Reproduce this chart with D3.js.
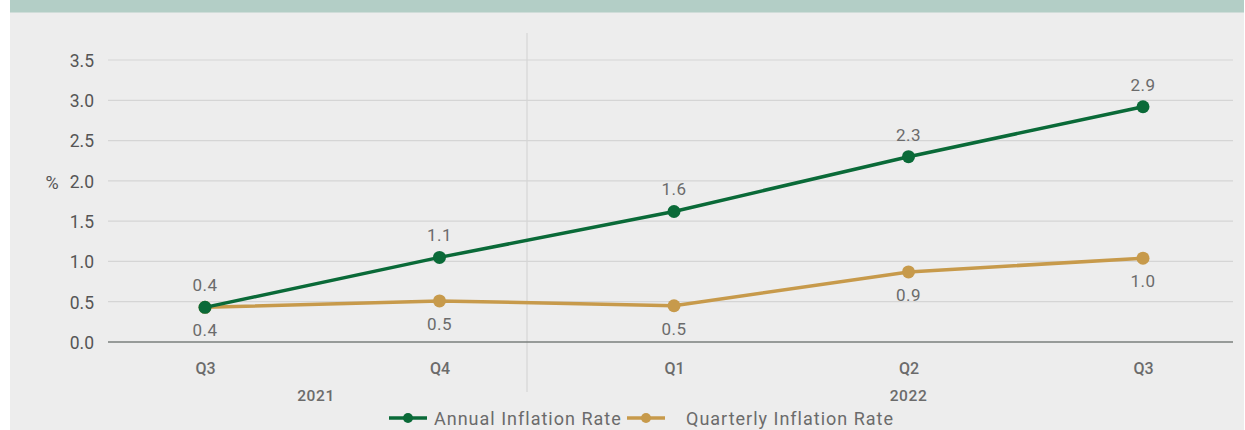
<!DOCTYPE html>
<html><head><meta charset="utf-8">
<script src="https://cdn.jsdelivr.net/npm/d3@7"></script>
<style>html,body{margin:0;padding:0;background:#fff;}svg{display:block;font-family:Roboto,"DejaVu Sans",sans-serif;}</style>
</head><body><svg id="c" width="1245" height="430"></svg>
<script>
const quarters = ["Q3","Q4","Q1","Q2","Q3"];
const years = [{label:"2021", from:0, to:1},{label:"2022", from:2, to:4}];
const annual = [0.43, 1.05, 1.62, 2.30, 2.92];
const annualLabels = ["0.4","1.1","1.6","2.3","2.9"];
const quarterly = [0.43, 0.51, 0.45, 0.87, 1.04];
const quarterlyLabels = ["0.4","0.5","0.5","0.9","1.0"];
const yTicks = [0,0.5,1.0,1.5,2.0,2.5,3.0,3.5];
const seriesNames = ["Annual Inflation Rate","Quarterly Inflation Rate"];
const colors = ["#0a6a38","#c79a4b"];

const svg = d3.select("#c");
svg.append("rect").attr("x",10).attr("y",0).attr("width",1234).attr("height",430).attr("fill","#ededed");
svg.append("rect").attr("x",10).attr("y",0).attr("width",1234).attr("height",12.5).attr("fill","#b3cec6");

const x = d3.scalePoint().domain(d3.range(quarters.length)).range([205,1143]);
const y = d3.scaleLinear().domain([0,3.5]).range([342,60]);
const gl = 108, gr = 1233, sepX = 527;
const txt = "#6b6b6b";

// grid
const g = svg.append("g");
g.selectAll("line.grid").data(yTicks.filter(t=>t>0)).join("line")
  .attr("x1",gl).attr("x2",gr).attr("y1",d=>y(d)).attr("y2",d=>y(d))
  .attr("stroke","#d5d5d5").attr("stroke-width",1.2);
// separator
g.append("line").attr("x1",sepX).attr("x2",sepX).attr("y1",33).attr("y2",392)
  .attr("stroke","#d5d5d5").attr("stroke-width",1.2);
// axis baseline
g.append("line").attr("x1",gl).attr("x2",gr).attr("y1",y(0)).attr("y2",y(0)).attr("stroke","#7a7f7d").attr("stroke-width",1.5);

// y labels
const yAxis = d3.axisLeft(y).tickValues(yTicks).tickFormat(d3.format(".1f")).tickSize(0).tickPadding(0);
const ya = svg.append("g").attr("transform","translate(94,0)").call(yAxis);
ya.select(".domain").remove();
ya.selectAll("text").attr("font-size",17.5).attr("fill","#555").attr("font-family","Roboto,sans-serif").attr("dy","0.36em");
svg.append("text").attr("x",52).attr("y",y(2.0)+8).attr("text-anchor","middle").attr("font-size",18).attr("fill","#555").text("%");

// x labels
const xAxis = d3.axisBottom(x).tickFormat(i=>quarters[i]).tickSize(0).tickPadding(0);
const xa = svg.append("g").attr("transform","translate(0,374)").call(xAxis);
xa.select(".domain").remove();
xa.selectAll("text").attr("font-size",16).attr("fill",txt).attr("font-weight",500).attr("font-family","Roboto,sans-serif").attr("dy",0);
svg.selectAll("text.year").data(years).join("text").attr("class","year")
  .attr("x",d=>d.label==="2021"?316:(x(d.from)+x(d.to))/2).attr("y",401).attr("text-anchor","middle")
  .attr("font-size",15.5).attr("fill",txt).attr("font-weight",500).attr("letter-spacing",0.6).text(d=>d.label);

// lines
const line = d3.line().x((d,i)=>x(i)).y(d=>y(d));
[[quarterly,colors[1]],[annual,colors[0]]].forEach(([data,col])=>{
  svg.append("path").datum(data).attr("d",line).attr("fill","none").attr("stroke",col).attr("stroke-width",3.5);
  svg.selectAll(null).data(data).join("circle").attr("cx",(d,i)=>x(i)).attr("cy",d=>y(d)).attr("r",6.5).attr("fill",col);
});
// labels
svg.selectAll("text.al").data(annual).join("text").attr("class","al")
  .attr("x",(d,i)=>x(i)).attr("y",d=>y(d)-16).attr("text-anchor","middle")
  .attr("font-size",17).attr("fill",txt).attr("letter-spacing",0.5).text((d,i)=>annualLabels[i]);
svg.selectAll("text.ql").data(quarterly).join("text").attr("class","ql")
  .attr("x",(d,i)=>x(i)).attr("y",d=>y(d)+29).attr("text-anchor","middle")
  .attr("font-size",17).attr("fill",txt).attr("letter-spacing",0.5).text((d,i)=>quarterlyLabels[i]);

// legend
const leg = [{x1:389,x2:427,cx:408,tx:434},{x1:627,x2:665,cx:646,tx:686}];
leg.forEach((l,i)=>{
  svg.append("line").attr("x1",l.x1).attr("x2",l.x2).attr("y1",418).attr("y2",418).attr("stroke",colors[i]).attr("stroke-width",3.5);
  svg.append("circle").attr("cx",l.cx).attr("cy",418).attr("r",5).attr("fill",colors[i]);
  svg.append("text").attr("x",l.tx).attr("y",424.5).attr("font-size",18).attr("letter-spacing",1).attr("fill",txt).text(seriesNames[i]);
});
</script></body></html>
